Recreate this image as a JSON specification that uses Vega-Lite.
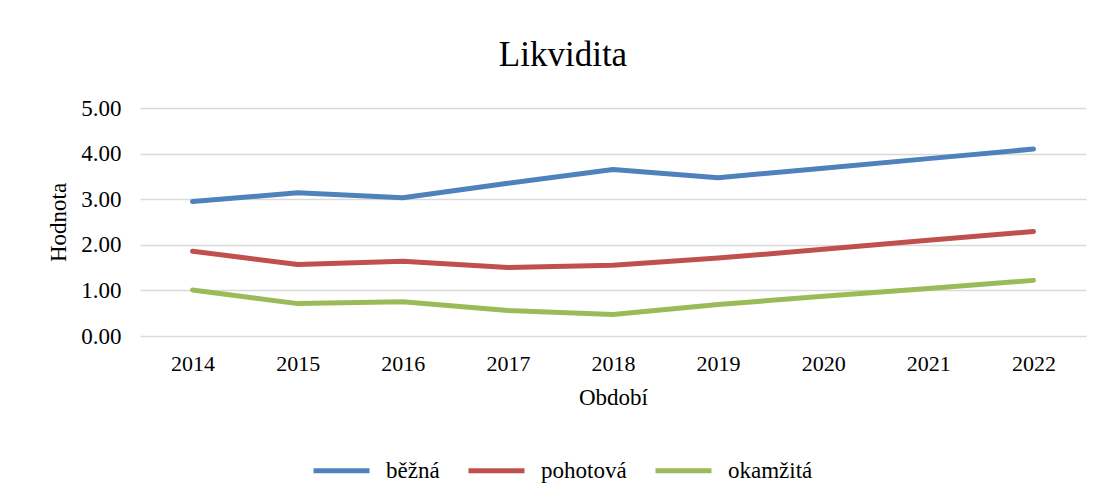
{
  "$schema": "https://vega.github.io/schema/vega-lite/v6.json",
  "autosize": {"type": "none"},
  "width": 946,
  "height": 228,
  "padding": {"left": 140, "top": 108, "right": 19, "bottom": 163},
  "background": "white",
  "title": {
    "text": "Likvidita",
    "font": "Liberation Serif",
    "fontSize": 35,
    "fontWeight": "normal",
    "color": "#000000",
    "anchor": "middle",
    "frame": "group",
    "dx": -50,
    "offset": 24
  },
  "data": {
    "values": [
      {"rok": "2014", "ukazatel": "běžná", "hodnota": 2.95},
      {"rok": "2015", "ukazatel": "běžná", "hodnota": 3.14},
      {"rok": "2016", "ukazatel": "běžná", "hodnota": 3.03},
      {"rok": "2017", "ukazatel": "běžná", "hodnota": 3.35},
      {"rok": "2018", "ukazatel": "běžná", "hodnota": 3.65},
      {"rok": "2019", "ukazatel": "běžná", "hodnota": 3.47},
      {"rok": "2020", "ukazatel": "běžná", "hodnota": 3.68},
      {"rok": "2021", "ukazatel": "běžná", "hodnota": 3.89},
      {"rok": "2022", "ukazatel": "běžná", "hodnota": 4.10},
      {"rok": "2014", "ukazatel": "pohotová", "hodnota": 1.86},
      {"rok": "2015", "ukazatel": "pohotová", "hodnota": 1.57},
      {"rok": "2016", "ukazatel": "pohotová", "hodnota": 1.64},
      {"rok": "2017", "ukazatel": "pohotová", "hodnota": 1.50},
      {"rok": "2018", "ukazatel": "pohotová", "hodnota": 1.55},
      {"rok": "2019", "ukazatel": "pohotová", "hodnota": 1.71},
      {"rok": "2020", "ukazatel": "pohotová", "hodnota": 1.90},
      {"rok": "2021", "ukazatel": "pohotová", "hodnota": 2.10},
      {"rok": "2022", "ukazatel": "pohotová", "hodnota": 2.29},
      {"rok": "2014", "ukazatel": "okamžitá", "hodnota": 1.01},
      {"rok": "2015", "ukazatel": "okamžitá", "hodnota": 0.71},
      {"rok": "2016", "ukazatel": "okamžitá", "hodnota": 0.75},
      {"rok": "2017", "ukazatel": "okamžitá", "hodnota": 0.56},
      {"rok": "2018", "ukazatel": "okamžitá", "hodnota": 0.47},
      {"rok": "2019", "ukazatel": "okamžitá", "hodnota": 0.69},
      {"rok": "2020", "ukazatel": "okamžitá", "hodnota": 0.87},
      {"rok": "2021", "ukazatel": "okamžitá", "hodnota": 1.04},
      {"rok": "2022", "ukazatel": "okamžitá", "hodnota": 1.22}
    ]
  },
  "mark": {"type": "line", "strokeWidth": 5, "strokeCap": "round", "strokeJoin": "round"},
  "encoding": {
    "x": {
      "field": "rok",
      "type": "ordinal",
      "scale": {"type": "point", "padding": 0.5},
      "axis": {
        "title": "Období",
        "labelAngle": 0,
        "domain": false,
        "ticks": false,
        "grid": false,
        "labelPadding": 17,
        "titlePadding": 12
      }
    },
    "y": {
      "field": "hodnota",
      "type": "quantitative",
      "scale": {"domain": [0, 5]},
      "axis": {
        "title": "Hodnota",
        "values": [0, 1, 2, 3, 4, 5],
        "format": ".2f",
        "domain": false,
        "ticks": false,
        "grid": true,
        "gridColor": "#d9d9d9",
        "gridWidth": 1.5,
        "labelPadding": 19,
        "labelFontSize": 23,
        "titlePadding": 10
      }
    },
    "color": {
      "field": "ukazatel",
      "type": "nominal",
      "scale": {
        "domain": ["běžná", "pohotová", "okamžitá"],
        "range": ["#4f81bd", "#c0504d", "#9bbb59"]
      },
      "legend": {
        "title": null,
        "orient": "none",
        "direction": "horizontal",
        "legendX": 171,
        "legendY": 332,
        "symbolType": "stroke",
        "symbolSize": 3136,
        "symbolStrokeWidth": 5,
        "labelOffset": 14,
        "columnPadding": 18
      }
    }
  },
  "config": {
    "font": "Liberation Serif",
    "view": {"stroke": null},
    "axis": {
      "labelFont": "Liberation Serif",
      "labelFontSize": 22,
      "labelColor": "#000000",
      "titleFont": "Liberation Serif",
      "titleFontSize": 23,
      "titleFontWeight": "normal",
      "titleColor": "#000000"
    },
    "legend": {
      "labelFont": "Liberation Serif",
      "labelFontSize": 23,
      "labelColor": "#000000"
    }
  }
}
